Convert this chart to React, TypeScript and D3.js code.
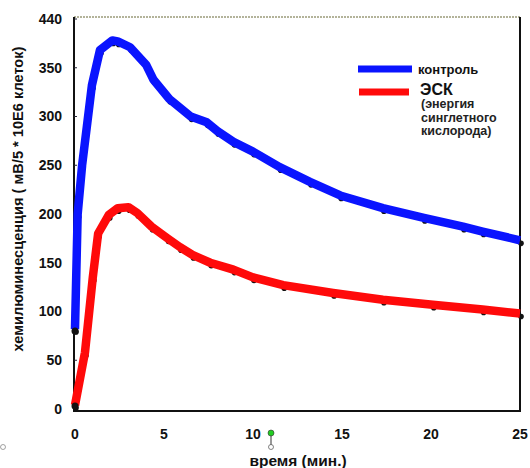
import React, { useEffect, useRef } from 'react';
import * as d3 from 'd3';

// time (min) and chemiluminescence values
const controlTime = [0, 0.15, 0.4, 0.95, 1.4, 2.1, 2.4, 3.1, 4.0, 4.4, 5.3, 6.5, 7.4, 8.0, 8.9, 10, 11.5, 13.2, 14.9, 17.3, 19.6, 21.8, 22.9, 25];
const controlValues = [82, 200, 250, 332, 368, 378, 377, 371, 353, 338, 318, 300, 294, 285, 274, 264, 248, 233, 219, 206, 196, 187, 182, 173];

const eskTime = [0, 0.56, 1.0, 1.3, 1.9, 2.4, 3.0, 3.5, 4.3, 5.2, 5.9, 6.6, 7.6, 8.9, 10.0, 11.7, 14.5, 17.3, 20.1, 22.9, 25];
const eskValues = [4, 58, 135, 180, 199, 206, 207, 201, 187, 175, 166, 158, 150, 143, 135, 127, 119, 112, 107, 102, 98];

const xTicks = [0, 5, 10, 15, 20, 25];
const yTicks = [0, 50, 100, 150, 200, 250, 300, 350, 400];
const yTickLabels = ['0', '50', '100', '150', '200', '250', '300', '350', '440'];

const legendLabels = ['контроль', 'ЭСК'];
const legendNote = ['(энергия', 'синглетного', 'кислорода)'];

const W = 530;
const H = 468;
const FONT = '"Liberation Sans", Arial, sans-serif';

const App = () => {
    const ref = useRef(null);

    useEffect(() => {
        const svg = d3.select(ref.current);
        svg.selectAll('*').remove();

        const left = 75, right = 520, top = 18, bottom = 409;

        const x = d3.scaleLinear().domain([0, 25]).range([left, right]);
        const y = d3.scaleLinear().domain([0, 400]).range([bottom, top + 1]);

        svg.append('rect').attr('width', W).attr('height', H).attr('fill', '#fff');

        // frame
        svg.append('line')
            .attr('x1', left - 1).attr('x2', right).attr('y1', top - 1).attr('y2', top - 1)
            .attr('stroke', '#9a9a7a').attr('stroke-width', 1.5).attr('stroke-dasharray', '2,1');
        svg.append('path')
            .attr('d', `M${left - 1},${top - 1}V${bottom + 2}H${right}V${top - 1}`)
            .attr('fill', 'none').attr('stroke', '#111').attr('stroke-width', 2);

        // y ticks
        const yAxis = svg.append('g');
        yTicks.forEach((t, i) => {
            yAxis.append('line')
                .attr('x1', left - 1).attr('x2', left + 2)
                .attr('y1', y(t)).attr('y2', y(t))
                .attr('stroke', '#223').attr('stroke-width', 1);
            yAxis.append('text')
                .attr('x', 62).attr('y', y(t))
                .attr('dy', '0.35em')
                .attr('text-anchor', 'end')
                .style('font-family', FONT).style('font-weight', 'bold').style('font-size', '14px')
                .attr('fill', '#111')
                .text(yTickLabels[i]);
        });

        const xAxis = svg.append('g');
        xTicks.forEach(t => {
            xAxis.append('text')
                .attr('x', x(t)).attr('y', 434)
                .attr('dy', '0.35em')
                .attr('text-anchor', 'middle')
                .style('font-family', FONT).style('font-weight', 'bold').style('font-size', '14px')
                .attr('fill', '#111')
                .text(t);
        });

        // axis titles
        svg.append('text')
            .attr('transform', `translate(18, 199) rotate(-90)`)
            .attr('text-anchor', 'middle').attr('dy', '0.35em')
            .style('font-family', FONT).style('font-weight', 'bold').style('font-size', '14.6px')
            .attr('fill', '#111')
            .text('хемилюминесценция ( мВ/5 * 10Е6 клеток)');
        svg.append('text')
            .attr('x', 298).attr('y', 461).attr('dy', '0.35em')
            .attr('text-anchor', 'middle')
            .style('font-family', FONT).style('font-weight', 'bold').style('font-size', '15.5px')
            .attr('fill', '#111')
            .text('время (мин.)');

        const line = d3.line().x(d => x(d[0])).y(d => y(d[1]));

        const series = [
            { t: controlTime, v: controlValues, color: '#0a14ff' },
            { t: eskTime, v: eskValues, color: '#ff0a0a' }
        ];

        series.forEach(s => {
            const pts = s.t.map((t, i) => [t, s.v[i]]);
            // black data points peeking out under the thick line
            svg.append('g').selectAll('circle')
                .data(pts)
                .join('circle')
                .attr('cx', d => x(d[0]) + 1)
                .attr('cy', d => y(d[1]) + 3)
                .attr('r', 2.8)
                .attr('fill', '#111');
            svg.append('path')
                .datum(pts)
                .attr('d', line)
                .attr('fill', 'none')
                .attr('stroke', s.color)
                .attr('stroke-width', 8.5)
                .attr('stroke-linejoin', 'round');
        });

        // start markers
        svg.append('circle').attr('cx', x(0)).attr('cy', y(controlValues[0]) + 2).attr('r', 3.5).attr('fill', '#111');
        svg.append('circle').attr('cx', x(0)).attr('cy', y(eskValues[0]) + 1).attr('r', 3.5).attr('fill', '#111');

        // legend
        const lg = svg.append('g');
        lg.append('line').attr('x1', 358).attr('x2', 412).attr('y1', 69).attr('y2', 69)
            .attr('stroke', '#0a14ff').attr('stroke-width', 7);
        lg.append('line').attr('x1', 359).attr('x2', 409).attr('y1', 92).attr('y2', 92)
            .attr('stroke', '#ff0a0a').attr('stroke-width', 7);
        lg.append('text').attr('x', 418).attr('y', 74)
            .style('font-family', FONT).style('font-weight', 'bold').style('font-size', '13px')
            .attr('fill', '#111').text(legendLabels[0]);
        lg.append('text').attr('x', 420).attr('y', 95)
            .style('font-family', FONT).style('font-weight', 'bold').style('font-size', '16px')
            .attr('fill', '#111').text(legendLabels[1]);
        legendNote.forEach((txt, i) => {
            lg.append('text').attr('x', 421).attr('y', 108 + i * 13.5)
                .style('font-family', FONT).style('font-weight', 'bold').style('font-size', '12.5px')
                .attr('fill', '#222').text(txt);
        });

        // selection handle artifacts
        svg.append('line').attr('x1', 271).attr('x2', 271).attr('y1', 433).attr('y2', 447)
            .attr('stroke', '#333').attr('stroke-width', 1);
        svg.append('circle').attr('cx', 271).attr('cy', 433).attr('r', 3)
            .attr('fill', '#2c2').attr('stroke', '#333').attr('stroke-width', 0.6);
        svg.append('circle').attr('cx', 271).attr('cy', 447).attr('r', 2.5)
            .attr('fill', '#fff').attr('stroke', '#333').attr('stroke-width', 0.6);
        svg.append('circle').attr('cx', 3).attr('cy', 447).attr('r', 2.5)
            .attr('fill', '#fff').attr('stroke', '#666').attr('stroke-width', 0.6);
    }, []);

    return (
        <div style={{ position: 'absolute', left: 0, top: 0 }}>
            <svg ref={ref} width={W} height={H} style={{ display: 'block' }}></svg>
        </div>
    );
};

export default App;
